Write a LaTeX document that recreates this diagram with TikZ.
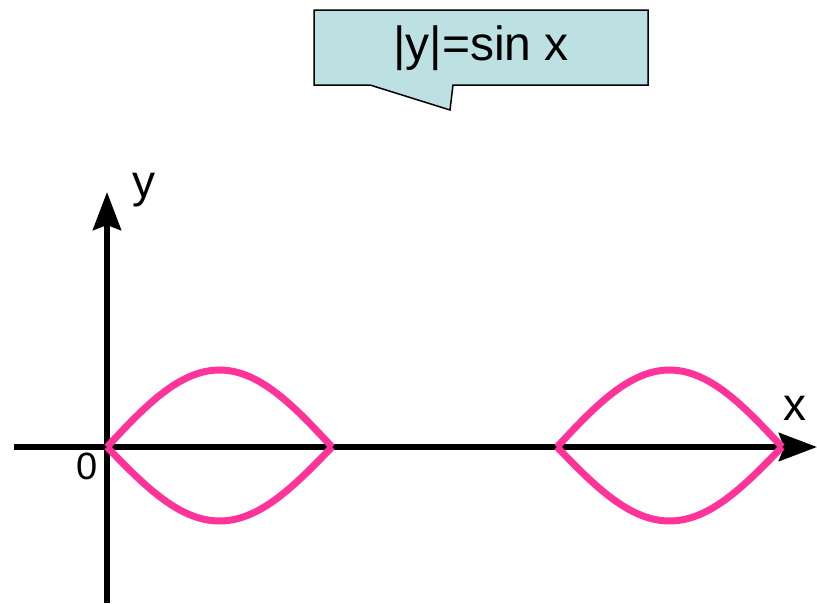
\documentclass[tikz,border=0pt]{standalone}
\usepackage{fontspec}
\setmainfont{Liberation Sans}
\usetikzlibrary{arrows.meta}
\definecolor{curvepink}{RGB}{255,51,153}
\definecolor{calloutblue}{RGB}{189,224,227}
\tikzset{axis/.style={line width=6pt,-{Stealth[length=38pt,width=28pt,inset=5pt]}},
  graph/.style={curvepink,line width=7pt,line join=round},
  lbl/.style={inner sep=0pt,font=\fontsize{46}{54}\selectfont}}

\begin{document}
\begin{tikzpicture}[x=1pt,y=-1pt]
\useasboundingbox (0,0) rectangle (817,603);
% callout
\coordinate (P1) at (314,10); \coordinate (P2) at (648,85); \coordinate (T) at (450,110);
\draw[fill=calloutblue,line width=1.5pt] (P1)--(P2|-P1)--(P2)--(453,85)--(T)--(370,85)--(P1|-P2)--cycle;
\node[lbl,font=\fontsize{48}{56}\selectfont] (eq) at (481,48) {|y|=sin x};
% axes
\coordinate (O) at (107,447); \coordinate (Ybot) at (107,603); \coordinate (Ytop) at (107,192);
\coordinate (Xl) at (14,447); \coordinate (Xr) at (817,447);
\draw[axis] (Ybot)--(Ytop);
\draw[axis] (Xl)--(Xr);
\node[lbl] (ylab) at (144,190) {y};
\node[lbl] (xlab) at (795,408) {x};
\node[lbl,font=\fontsize{38}{44}\selectfont] (zero) at (87,466) {0};
% |y| = sin x on [0,pi] and [2pi,3pi]
\foreach \s in {107,557}{
  \draw[graph] plot[domain=0:180,samples=60] ({\s+\x*1.25},{447-77*sin(\x)});
  \draw[graph] plot[domain=0:180,samples=60] ({\s+\x*1.25},{447+74*sin(\x)});
}
\end{tikzpicture}
\end{document}
